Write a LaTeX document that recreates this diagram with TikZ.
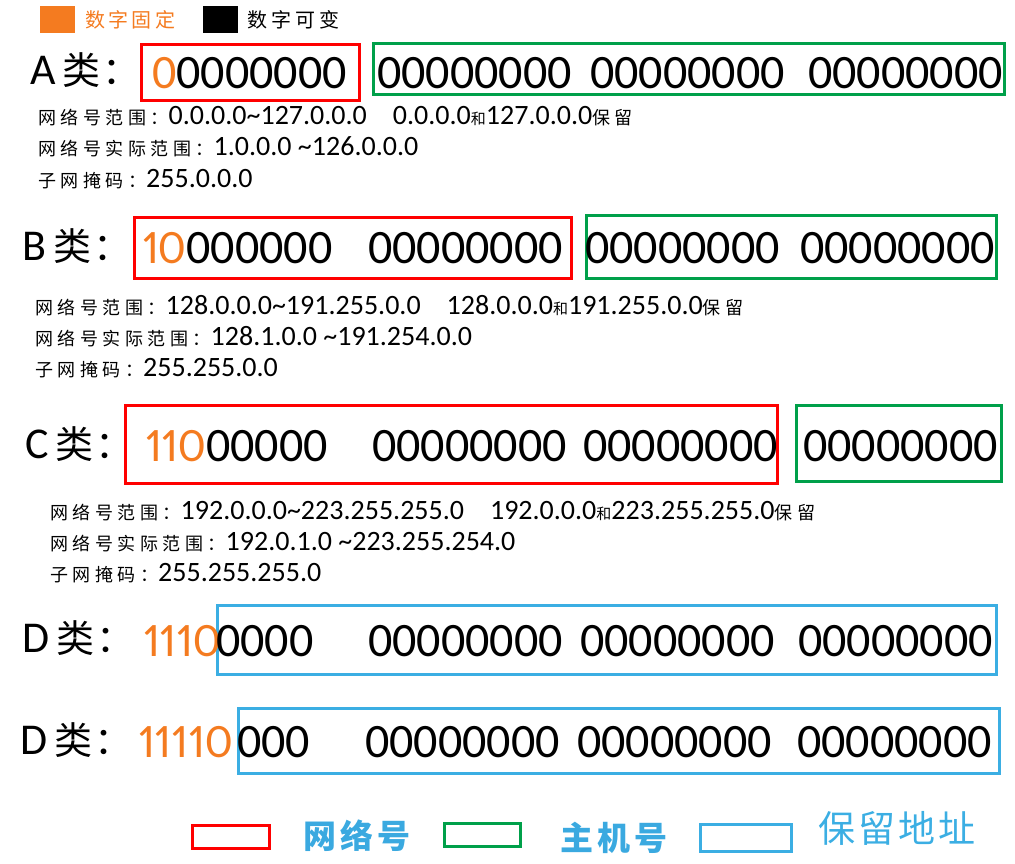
\documentclass[tikz,border=0pt]{standalone}
\usepackage{fontspec}
\setmainfont{Carlito}
\newfontfamily\cjk{Noto Sans CJK SC}
\definecolor{fixorange}{HTML}{F47B20}
\definecolor{netred}{HTML}{FF0000}
\definecolor{hostgreen}{HTML}{00A04A}
\definecolor{resblue}{HTML}{3BAEE3}
\definecolor{legendblue}{HTML}{3AA9E0}
% size, letter spacing, text
\newcommand\zh[3]{{\cjk\fontsize{#1}{#1}\selectfont\addfontfeatures{LetterSpace=#2}#3}}
\newcommand\fix[1]{{\addfontfeatures{Numbers=Proportional}\textcolor{fixorange}{#1}}}
\newcommand\tld{\char"007E\relax}

\begin{document}
\begin{tikzpicture}[x=1pt, y=-1pt,
  netbox/.style={draw=netred, line width=3pt, inner sep=0pt, anchor=north west},
  hostbox/.style={draw=hostgreen, line width=3pt, inner sep=0pt, anchor=north west},
  resbox/.style={draw=resblue, line width=3pt, inner sep=0pt, anchor=north west},
  bits/.style={font=\fontsize{48}{48}\selectfont, inner sep=0pt, anchor=base west},
  cls/.style={font=\fontsize{44}{44}\selectfont, inner sep=0pt, anchor=base west},
  info/.style={font=\fontsize{28}{28}\selectfont, inner sep=0pt, anchor=base west},
  swatch/.style={inner sep=0pt, anchor=north west, minimum width=35pt, minimum height=27pt},
  legend/.style={inner sep=0pt, anchor=west}]
  \useasboundingbox (0,0) rectangle (1015,863);
  % colour legend
  \node[swatch, fill=fixorange] (fixKey) at (40,6) {};
  \node[legend, text=fixorange] (fixText) at (85,20) {\zh{20}{17}{数字固定}};
  \node[swatch, fill=black] (varKey) at (203,6) {};
  \node[legend] (varText) at (247,20) {\zh{20}{20}{数字可变}};
  % class A
  \node[cls] (aCls) at (30,84) {A\,\zh{38}{5}{类：}};
  \node[netbox, minimum width=218pt, minimum height=56pt] (aNet) at (140,43) {};
  \node[hostbox, minimum width=631pt, minimum height=51pt] (aHost) at (372,42) {};
  \node[bits] (aNetBits) at (152,88) {\textcolor{fixorange}{0}0000000};
  \foreach \x [count=\i] in {377,590,808}
    \node[bits] (aHostBits\i) at (\x,88) {00000000};
  \node[info] (aRange) at (38,124) {\zh{18}{25}{网络号范围：}0.0.0.0\tld127.0.0.0\hspace{26pt}0.0.0.0\zh{15}{0}{和}127.0.0.0\zh{18}{25}{保留}};
  \node[info] (aReal) at (38,155) {\zh{18}{25}{网络号实际范围：}1.0.0.0 \tld126.0.0.0};
  \node[info] (aMask) at (38,187) {\zh{18}{25}{子网掩码：}255.0.0.0};
  % class B
  \node[cls] (bCls) at (22,260) {B\,\zh{38}{5}{类：}};
  \node[netbox, minimum width=437pt, minimum height=61pt] (bNet) at (133,216) {};
  \node[hostbox, minimum width=410pt, minimum height=63pt] (bHost) at (585,214) {};
  \node[bits] (bNetBits1) at (142,263) {\fix{10}000000};
  \node[bits] (bNetBits2) at (368,263) {00000000};
  \foreach \x [count=\i] in {585,800}
    \node[bits] (bHostBits\i) at (\x,263) {00000000};
  \node[info] (bRange) at (35,314) {\zh{18}{25}{网络号范围：}128.0.0.0\tld191.255.0.0\hspace{26pt}128.0.0.0\zh{15}{0}{和}191.255.0.0\zh{18}{25}{保留}};
  \node[info] (bReal) at (35,345) {\zh{18}{25}{网络号实际范围：}128.1.0.0 \tld191.254.0.0};
  \node[info] (bMask) at (35,376) {\zh{18}{25}{子网掩码：}255.255.0.0};
  % class C
  \node[cls] (cCls) at (25,458) {C\,\zh{38}{5}{类：}};
  \node[netbox, minimum width=652pt, minimum height=78pt] (cNet) at (124,404) {};
  \node[hostbox, minimum width=205pt, minimum height=76pt] (cHost) at (795,404) {};
  \node[bits] (cNetBits1) at (145,461) {\fix{110}00000};
  \foreach \x [count=\i from 2] in {372,583}
    \node[bits] (cNetBits\i) at (\x,461) {00000000};
  \node[bits] (cHostBits) at (803,461) {00000000};
  \node[info] (cRange) at (50,519) {\zh{18}{25}{网络号范围：}192.0.0.0\tld223.255.255.0\hspace{26pt}192.0.0.0\zh{15}{0}{和}223.255.255.0\zh{18}{25}{保留}};
  \node[info] (cReal) at (50,550) {\zh{18}{25}{网络号实际范围：}192.0.1.0 \tld223.255.254.0};
  \node[info] (cMask) at (50,581) {\zh{18}{25}{子网掩码：}255.255.255.0};
  % class D
  \node[cls] (dCls) at (22,652) {D\,\zh{38}{5}{类：}};
  \node[resbox, minimum width=779pt, minimum height=69pt] (dRes) at (216,604) {};
  \node[bits] (dFix) at (143,656) {\fix{1110}};
  \node[bits] (dBits1) at (216,656) {0000};
  \foreach \x [count=\i from 2] in {368,580,798}
    \node[bits] (dBits\i) at (\x,656) {00000000};
  % class E (printed as D)
  \node[cls] (eCls) at (20,754) {D\,\zh{38}{5}{类：}};
  \node[resbox, minimum width=761pt, minimum height=65pt] (eRes) at (237,707) {};
  \node[bits] (eFix) at (138,757) {\fix{11110}};
  \node[bits] (eBits1) at (237,757) {000};
  \foreach \x [count=\i from 2] in {365,577,797}
    \node[bits] (eBits\i) at (\x,757) {00000000};
  % box legend
  \node[netbox, minimum width=77pt, minimum height=23pt] (netKey) at (191,824) {};
  \node[legend, text=legendblue] (netText) at (303,836) {\zh{33}{12}{\bfseries 网络号}};
  \node[hostbox, minimum width=76pt, minimum height=23pt] (hostKey) at (443,822) {};
  \node[legend, text=legendblue] (hostText) at (560,838) {\zh{33}{12}{\bfseries 主机号}};
  \node[resbox, minimum width=91pt, minimum height=27pt] (resKey) at (699,823) {};
  \node[legend, text=resblue] (resText) at (818,828) {\zh{37}{8}{保留地址}};
\end{tikzpicture}
\end{document}
